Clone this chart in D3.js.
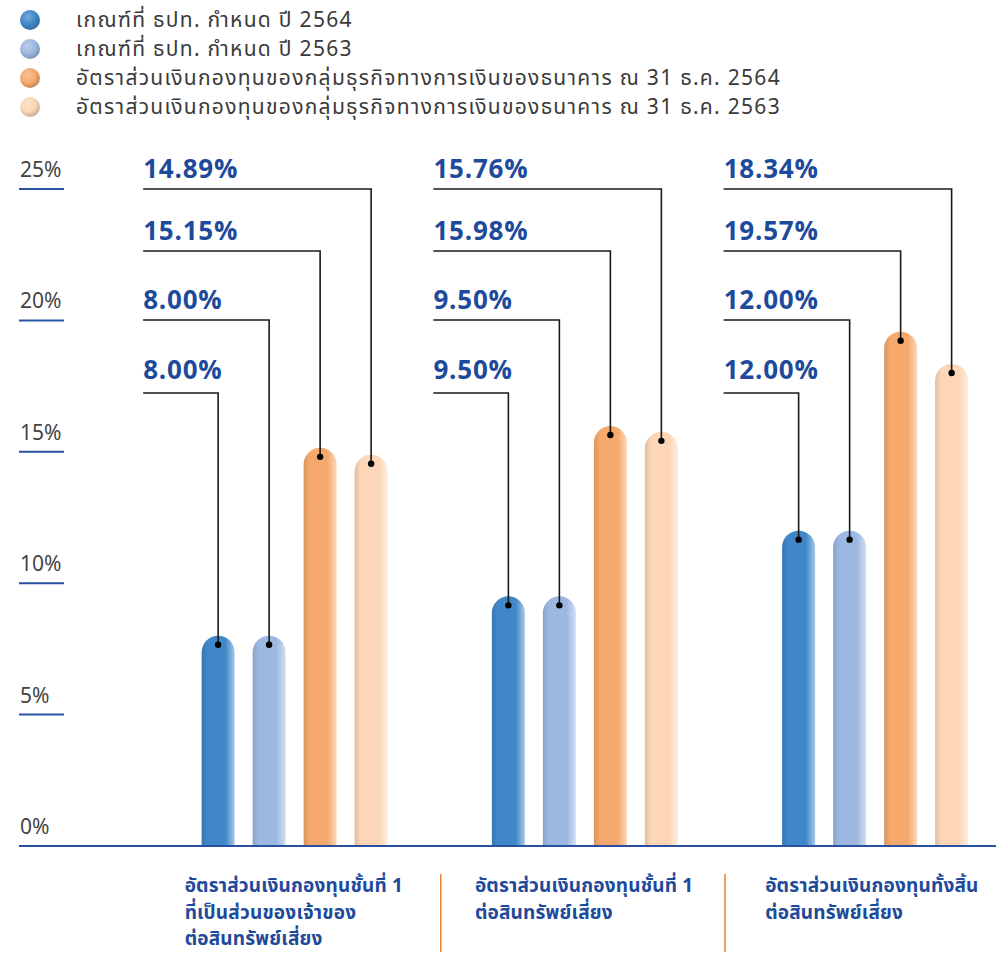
<!DOCTYPE html>
<html>
<head>
<meta charset="utf-8">
<script src="https://cdn.jsdelivr.net/npm/d3@7"></script>
<style>
  body { margin: 0; background: #fff; }
  text { font-family: "Noto Sans Thai", "Noto Sans", "DejaVu Sans", sans-serif; }
</style>
</head>
<body>
<svg width="1000" height="954"></svg>
<script>
// data
const categories = ['tier1Owner', 'tier1', 'total'];
const categoryLines = [
  ['อัตราส่วนเงินกองทุนชั้นที่ 1', 'ที่เป็นส่วนของเจ้าของ', 'ต่อสินทรัพย์เสี่ยง'],
  ['อัตราส่วนเงินกองทุนชั้นที่ 1', 'ต่อสินทรัพย์เสี่ยง'],
  ['อัตราส่วนเงินกองทุนทั้งสิ้น', 'ต่อสินทรัพย์เสี่ยง']
];
const seriesNames = [
  'เกณฑ์ที่ ธปท. กำหนด ปี 2564',
  'เกณฑ์ที่ ธปท. กำหนด ปี 2563',
  'อัตราส่วนเงินกองทุนของกลุ่มธุรกิจทางการเงินของธนาคาร ณ 31 ธ.ค. 2564',
  'อัตราส่วนเงินกองทุนของกลุ่มธุรกิจทางการเงินของธนาคาร ณ 31 ธ.ค. 2563'
];
const bot2564 = [8.00, 9.50, 12.00];
const bot2563 = [8.00, 9.50, 12.00];
const bank2564 = [15.15, 15.98, 19.57];
const bank2563 = [14.89, 15.76, 18.34];
const yTicks = [0, 5, 10, 15, 20, 25];

const seriesValues = [bot2564, bot2563, bank2564, bank2563];
const colors = ['#3f87c8', '#9cb8e1', '#f5a96c', '#fcd6b6'];
const labelBlue = '#1e4a9c';

// callout rows (top to bottom), top row goes to the last series
const calloutRows = [189, 251, 320, 393];

const svg = d3.select('svg');
const defs = svg.append('defs');

colors.forEach((c, i) => {
  const base = d3.color(c);
  const g = defs.append('linearGradient').attr('id', 'bar' + i)
    .attr('x1', 0).attr('x2', 1).attr('y1', 0).attr('y2', 0);
  g.append('stop').attr('offset', '0%').attr('stop-color', base.darker(0.35));
  g.append('stop').attr('offset', '18%').attr('stop-color', base);
  g.append('stop').attr('offset', '72%').attr('stop-color', base);
  g.append('stop').attr('offset', '100%').attr('stop-color', d3.interpolateRgb(base, '#ffffff')(0.55));

  const r = defs.append('radialGradient').attr('id', 'dot' + i)
    .attr('cx', '40%').attr('cy', '35%').attr('r', '65%');
  r.append('stop').attr('offset', '0%').attr('stop-color', d3.interpolateRgb(base, '#ffffff')(0.3));
  r.append('stop').attr('offset', '60%').attr('stop-color', base);
  r.append('stop').attr('offset', '100%').attr('stop-color', base.darker(0.6));
});

const y = d3.scaleLinear().domain([0, 25]).range([846, 189]);

const x0 = d3.scaleBand()
  .domain(categories)
  .range([149.5, 1020.25])
  .padding(0);

const x1 = d3.scaleBand()
  .domain(d3.range(seriesNames.length))
  .range([-93, 93])
  .paddingInner(18 / 51)
  .paddingOuter(0);

const groupCenter = (c) => x0(c) + x0.bandwidth() / 2;

// legend
const legend = svg.append('g');
seriesNames.forEach((name, i) => {
  const ly = 20 + i * 29;
  legend.append('circle').attr('cx', 30).attr('cy', ly).attr('r', 10)
    .attr('fill', `url(#dot${i})`);
  legend.append('text').attr('x', 76).attr('y', ly + 7)
    .attr('font-size', 21).attr('letter-spacing', 1.3)
    .attr('fill', '#3a3a3a').text(name);
});

// y ticks
const ticks = svg.append('g');
yTicks.filter((t) => t > 0).forEach((t) => {
  ticks.append('line').attr('x1', 19).attr('x2', 64)
    .attr('y1', y(t)).attr('y2', y(t))
    .attr('stroke', '#2a52a3').attr('stroke-width', 2);
});
yTicks.forEach((t) => {
  ticks.append('text').attr('x', 20).attr('y', y(t) - 12)
    .attr('font-size', 21).attr('fill', '#444').text(t + '%');
});

// bars
const barPath = (bx, top, w, base) => {
  const r = w / 2;
  return `M${bx},${base} L${bx},${top + r} A${r},${r} 0 0 1 ${bx + w},${top + r} L${bx + w},${base} Z`;
};

categories.forEach((c, ci) => {
  const cx = groupCenter(c);
  const g = svg.append('g').attr('transform', `translate(${cx},0)`);
  seriesValues.forEach((vals, si) => {
    g.append('path')
      .attr('d', barPath(x1(si), y(vals[ci]), x1.bandwidth(), y(0)))
      .attr('fill', `url(#bar${si})`);
  });

  // callouts
  const left = -151.5;
  calloutRows.forEach((ry, row) => {
    const si = seriesValues.length - 1 - row;
    const v = seriesValues[si][ci];
    const bx = x1(si) + x1.bandwidth() / 2;
    const dotY = y(v) + 9;
    g.append('path')
      .attr('d', `M${left},${ry} H${bx} V${dotY}`)
      .attr('fill', 'none').attr('stroke', '#1a1a1a').attr('stroke-width', 1.6);
    g.append('circle').attr('cx', bx).attr('cy', dotY).attr('r', 3.2).attr('fill', '#000');
    g.append('text').attr('x', left).attr('y', ry - (row === 3 ? 14 : 11))
      .attr('font-size', 26).attr('font-weight', 700).attr('letter-spacing', 0.8)
      .attr('fill', labelBlue)
      .text(d3.format('.2f')(v) + '%');
  });

  // category label
  const t = svg.append('text').attr('x', cx - 110).attr('y', 892)
    .attr('font-size', 19).attr('font-weight', 700).attr('letter-spacing', 0.2)
    .attr('fill', labelBlue);
  categoryLines[ci].forEach((line, li) => {
    t.append('tspan').attr('x', cx - 110).attr('y', 892 + li * 26.5).text(line);
  });

  if (ci > 0) {
    const sx = x0(c) + (ci === 2 ? -5 : 1);
    svg.append('line').attr('x1', sx).attr('x2', sx).attr('y1', 874).attr('y2', 952)
      .attr('stroke', '#e8833a').attr('stroke-width', 1.5);
  }
});

// baseline
svg.append('line').attr('x1', 19).attr('x2', 996)
  .attr('y1', y(0)).attr('y2', y(0))
  .attr('stroke', '#2a4fa0').attr('stroke-width', 2);
</script>
</body>
</html>
